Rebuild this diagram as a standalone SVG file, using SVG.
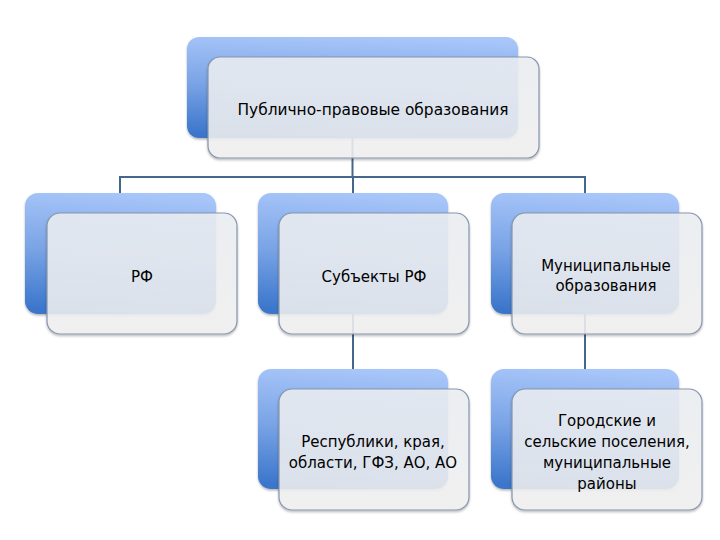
<svg xmlns="http://www.w3.org/2000/svg" width="720" height="540" viewBox="0 0 720 540">
<defs>
<linearGradient id="blue" x1="0.55" y1="0" x2="0.45" y2="1">
<stop offset="0" stop-color="#a8c6f9"/>
<stop offset="0.5" stop-color="#7aa4e6"/>
<stop offset="1" stop-color="#3b76cb"/>
</linearGradient>
<linearGradient id="pale" x1="0" y1="0" x2="0" y2="1">
<stop offset="0" stop-color="#eef0f4"/>
<stop offset="1" stop-color="#f2f2f2"/>
</linearGradient>
<filter id="sh" x="-10%" y="-10%" width="120%" height="130%">
<feDropShadow dx="0" dy="1.5" stdDeviation="1.2" flood-color="#000" flood-opacity="0.3"/>
</filter>
</defs>
<style>
.back{fill:url(#blue);filter:url(#sh)}
.front{fill:url(#pale);fill-opacity:0.86;stroke:#8595ae;stroke-width:1.2;filter:url(#sh)}
.conn{fill:none;stroke:#46678c;stroke-width:2}
text{font-family:"DejaVu Sans","Liberation Sans",sans-serif;font-size:15px;fill:#000;text-anchor:middle}
</style>
<rect width="720" height="540" fill="#fff"/>
<g id="n1">
<rect class="back" x="187" y="37" width="331" height="101" rx="12"/>
</g>
<g id="n2"><rect class="back" x="25" y="193" width="191" height="121" rx="13"/></g>
<g id="n3"><rect class="back" x="258" y="193" width="190" height="121" rx="13"/></g>
<g id="n4"><rect class="back" x="491" y="193" width="188" height="121" rx="13"/></g>
<g id="n5"><rect class="back" x="258" y="369" width="190" height="120" rx="13"/></g>
<g id="n6"><rect class="back" x="491" y="369" width="188" height="120" rx="13"/></g>
<g id="connectors">
<path class="conn" d="M352.5 138V177M120 193V177H585V193M353 177V193"/>
<path class="conn" d="M353 314V369"/>
<path class="conn" d="M585 314V369"/>
</g>
<g id="n1f">
<rect class="front" x="208" y="57" width="331" height="101" rx="12"/>
<text x="373" y="115" textLength="271" lengthAdjust="spacingAndGlyphs">Публично-правовые образования</text>
</g>
<g id="n2f">
<rect class="front" x="47" y="213" width="190" height="121" rx="13"/>
<text x="142" y="282">РФ</text>
</g>
<g id="n3f">
<rect class="front" x="279" y="213" width="190" height="121" rx="13"/>
<text x="374" y="282">Субъекты РФ</text>
</g>
<g id="n4f">
<rect class="front" x="512" y="213" width="190" height="121" rx="13"/>
<text x="606" y="271">Муниципальные</text>
<text x="606" y="291">образования</text>
</g>
<g id="n5f">
<rect class="front" x="279" y="389" width="190" height="121" rx="13"/>
<text x="373" y="447">Республики, края,</text>
<text x="373" y="468">области, ГФЗ, АО, АО</text>
</g>
<g id="n6f">
<rect class="front" x="512" y="389" width="190" height="121" rx="13"/>
<text x="607" y="426">Городские и</text>
<text x="607" y="447">сельские поселения,</text>
<text x="607" y="468">муниципальные</text>
<text x="607" y="489">районы</text>
</g>
</svg>
